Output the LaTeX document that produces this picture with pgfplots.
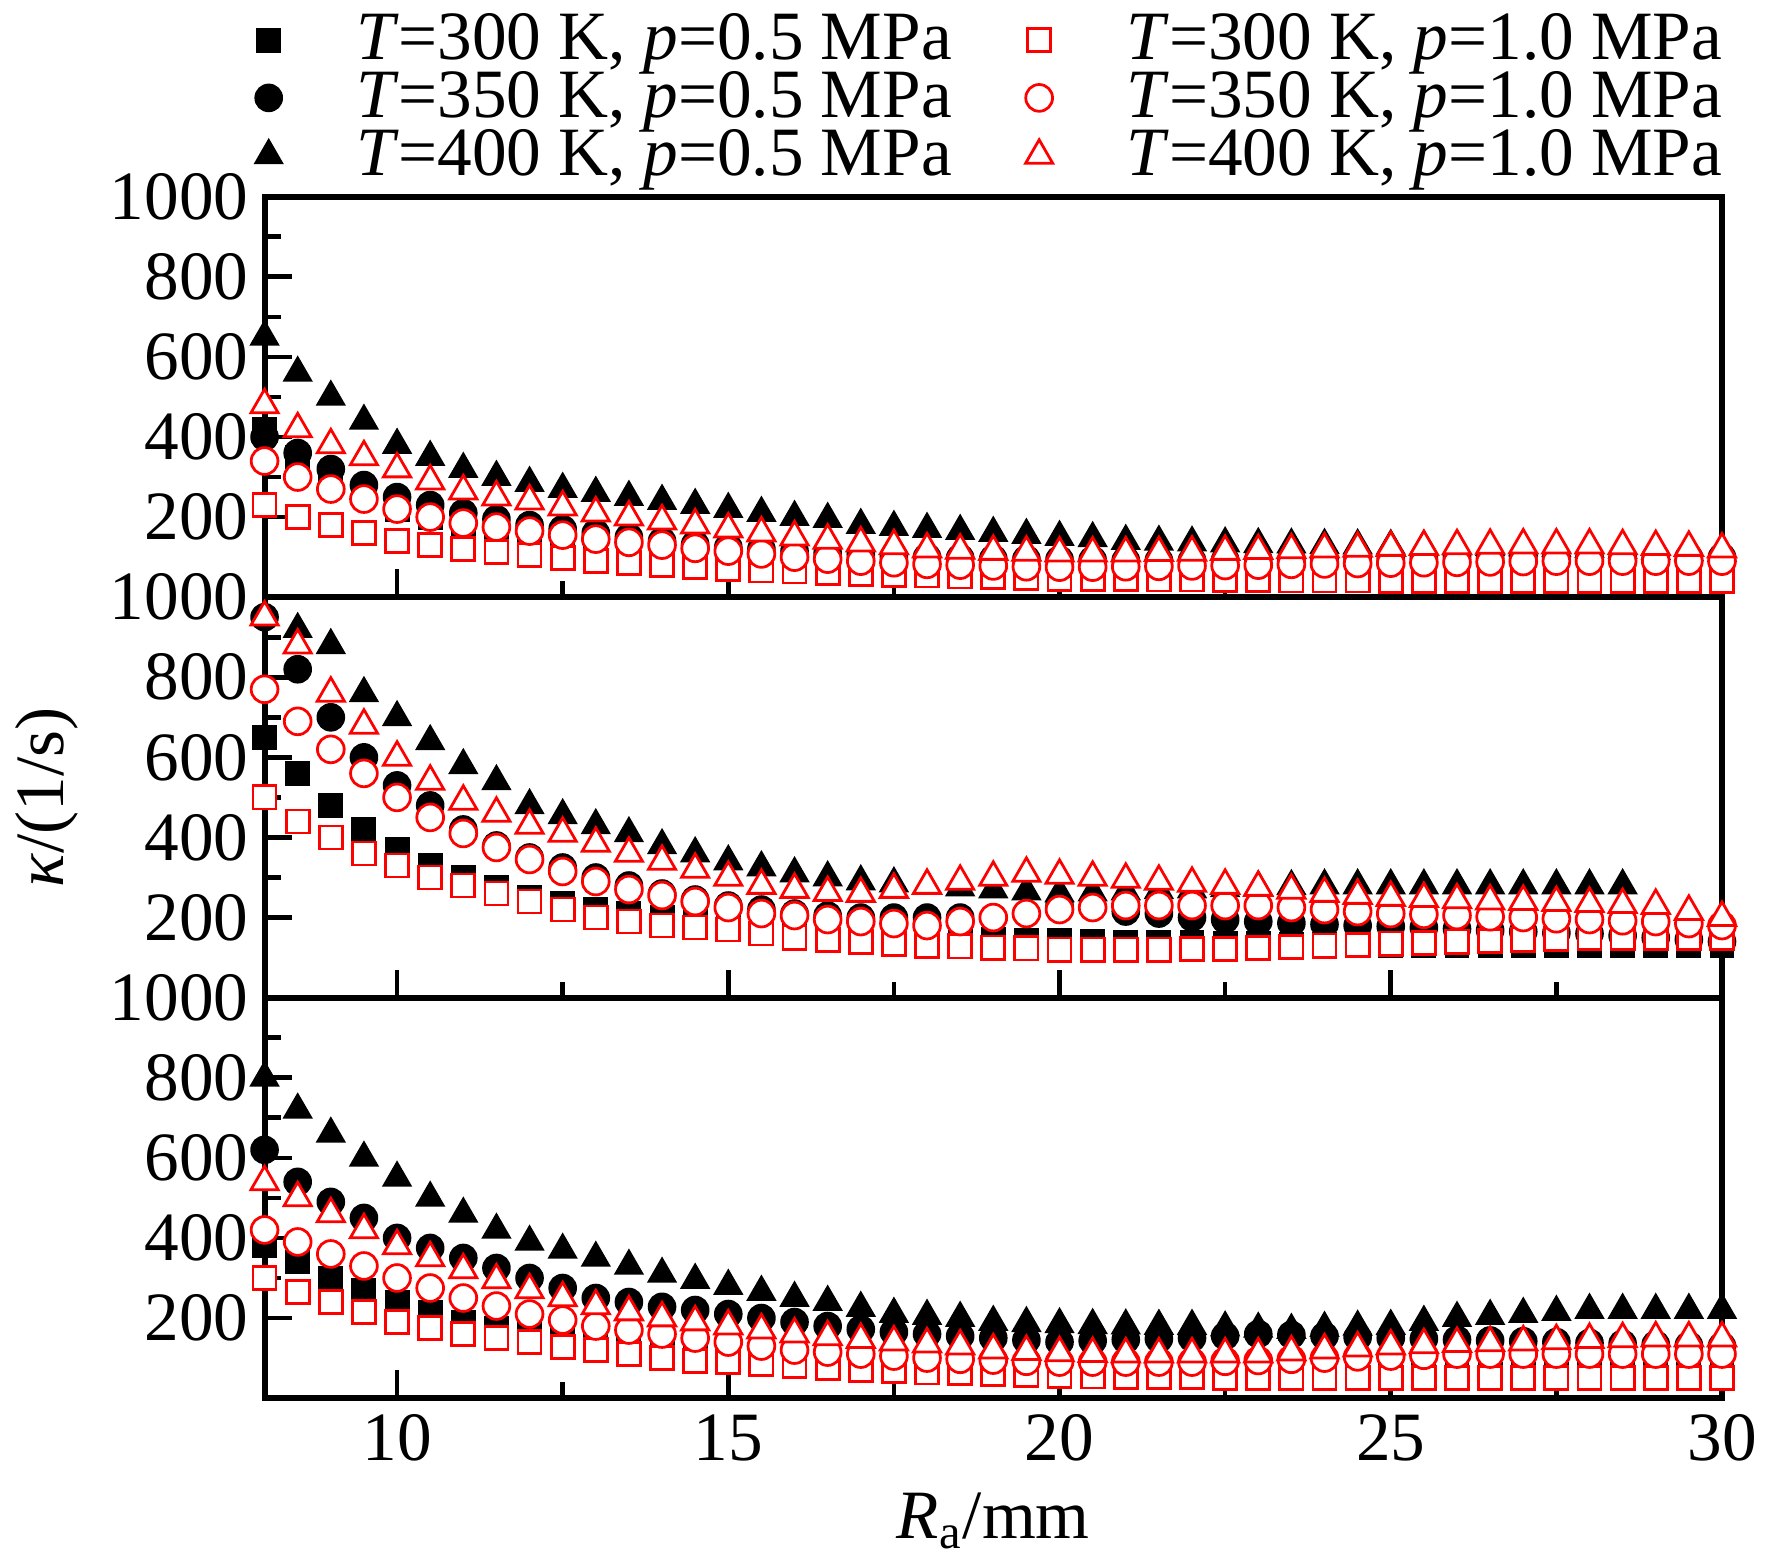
\documentclass[border=0pt]{standalone}
\usepackage{pgfplots}
\pgfplotsset{compat=1.18}
\usepackage{pgfplotstable}
\usepackage{fontspec}
\setmainfont{Liberation Serif}
\newcommand\bigf{\fontsize{15}{18}\selectfont}
\pgfplotstableread{
x s5 c5 t5 s1 c1 t1
8 420 400 650 230 340 480
8.5 350 360 560 200 300 420
9 300 320 500 180 270 380
9.5 260 280 440 160 245 350
10 220 250 380 140 220 320
10.5 200 230 350 130 200 290
11 180 210 320 120 185 265
11.5 170 195 300 112 175 250
12 155 180 285 105 165 240
12.5 145 170 270 97 155 225
13 130 160 260 90 145 210
13.5 122 150 250 85 137 200
14 115 140 240 80 130 190
14.5 108 132 230 75 122 180
15 100 125 220 70 115 170
15.5 96 120 210 67 108 160
16 92 115 200 64 100 150
16.5 88 110 195 61 95 142
17 85 106 180 58 90 135
17.5 82 102 175 56 86 128
18 80 100 170 54 82 120
18.5 78 98 165 52 80 117
19 75 96 160 50 78 114
19.5 73 95 155 48 76 112
20 70 94 150 46 75 110
20.5 69 93 147 45 75 110
21 68 92 140 45 76 110
21.5 67 92 138 44 77 111
22 66 92 136 44 78 112
22.5 65 93 134 43 79 114
23 64 94 132 43 80 116
23.5 63 95 131 42 82 118
24 62 96 130 42 83 120
24.5 61 97 129 42 84 122
25 60 98 128 41 85 124
25.5 60 99 127 41 86 126
26 59 100 126 41 87 128
26.5 58 100 125 40 88 129
27 58 100 124 40 89 130
27.5 57 100 122 40 90 130
28 57 100 120 40 90 130
28.5 56 100 118 40 90 128
29 56 100 115 40 90 126
29.5 55 100 112 40 90 124
30 55 100 110 40 90 120
}\tA
\pgfplotstableread{
x s5 c5 t5 s1 c1 t1
8 650 950 950 500 770 950
8.5 560 820 920 440 690 880
9 480 700 880 400 620 760
9.5 420 600 760 360 560 680
10 370 530 700 330 500 600
10.5 330 480 640 300 450 540
11 300 420 580 280 410 490
11.5 275 380 540 260 375 460
12 250 350 480 240 345 430
12.5 235 325 455 220 315 410
13 220 300 430 200 290 385
13.5 210 280 410 190 270 360
14 200 260 380 180 255 340
14.5 190 245 360 175 240 320
15 182 230 340 170 225 300
15.5 175 220 325 160 210 280
16 170 210 310 150 205 270
16.5 165 205 300 145 195 262
17 160 200 290 140 190 260
17.5 155 200 285 135 185 270
18 150 200 280 130 180 280
18.5 148 200 275 128 190 290
19 146 200 270 125 200 300
19.5 144 210 265 123 210 310
20 142 230 260 120 220 305
20.5 140 225 262 120 225 300
21 139 215 265 120 230 295
21.5 138 210 268 120 230 290
22 137 200 270 121 230 285
22.5 136 195 273 122 230 280
23 135 190 276 124 230 275
23.5 134 186 278 126 225 268
24 133 183 280 130 220 260
24.5 132 180 280 132 215 255
25 131 178 280 135 210 250
25.5 130 175 280 137 208 247
26 130 172 280 140 205 244
26.5 130 168 280 142 202 241
27 130 165 280 145 200 240
27.5 130 162 280 147 197 237
28 130 160 280 150 195 235
28.5 130 155 280 150 192 232
29 130 150 nan 150 190 230
29.5 130 145 nan 150 185 215
30 130 140 nan 150 180 200
}\tB
\pgfplotstableread{
x s5 c5 t5 s1 c1 t1
8 380 620 800 300 420 540
8.5 340 540 720 265 390 500
9 300 490 660 240 360 460
9.5 270 450 600 215 330 420
10 240 400 550 190 300 380
10.5 215 375 500 175 275 350
11 190 350 460 160 250 320
11.5 175 325 420 150 230 295
12 160 300 390 140 210 270
12.5 150 275 370 128 195 250
13 140 250 350 120 180 230
13.5 130 240 330 110 170 215
14 120 228 310 100 160 200
14.5 115 220 295 92 150 190
15 110 210 280 90 140 180
15.5 105 200 265 85 130 170
16 100 190 250 80 120 160
16.5 95 180 240 76 115 153
17 90 172 225 70 110 146
17.5 85 165 210 67 105 140
18 80 160 205 64 100 135
18.5 78 155 200 62 97 130
19 76 150 190 60 95 120
19.5 74 145 187 58 92 116
20 70 140 184 55 90 113
20.5 68 143 182 54 90 111
21 66 146 181 53 90 110
21.5 64 148 180 52 90 110
22 62 150 180 52 90 110
22.5 61 155 176 51 92 110
23 60 160 173 51 94 110
23.5 60 158 170 50 97 115
24 60 155 175 50 100 120
24.5 60 152 178 50 103 125
25 60 150 180 50 105 130
25.5 60 148 190 50 107 133
26 60 146 200 50 110 136
26.5 60 144 205 50 110 138
27 60 142 210 50 110 140
27.5 60 140 215 50 110 143
28 60 138 220 50 110 146
28.5 60 136 220 50 110 148
29 60 134 220 50 110 150
29.5 60 132 220 50 110 150
30 60 130 220 50 110 150
}\tC
\pgfplotsset{
 panel/.style={scale only axis, width=11.1cm, height=3.05cm,
  xmin=8, xmax=30, ymin=0, ymax=1000,
  xtick={10,15,20,25,30}, minor x tick num=1,
  ytick={200,400,600,800,1000}, minor y tick num=1,
  tick align=inside, xtick pos=bottom, ytick pos=left,
  major tick length=6pt, minor tick length=3.5pt,
  axis line style={line width=1.3pt}, every tick/.style={line width=1pt,black},
  /pgf/number format/1000 sep={},
  /pgf/number format/assume math mode=true,
  tick label style={font=\bigf}, label style={font=\bigf},
  clip=false},
 ms/.style={only marks, black, mark=square*, mark size=2.5pt},
 mc/.style={only marks, black, mark=*, mark size=2.9pt},
 mt/.style={only marks, black, mark=triangle*, mark size=3.4pt},
 os/.style={only marks, red, mark=square*, mark size=2.5pt, mark options={fill=white,line width=0.6pt}},
 oc/.style={only marks, red, mark=*, mark size=2.9pt, mark options={fill=white,line width=0.6pt}},
 ot/.style={only marks, red, mark=triangle*, mark size=3.4pt, mark options={fill=white,line width=0.6pt}},
}
\newcommand\allplots[1]{%
 \addplot[ms] table[x=x,y=s5]{#1};
 \addplot[mc] table[x=x,y=c5]{#1};
 \addplot[mt] table[x=x,y=t5]{#1};
 \addplot[os] table[x=x,y=s1]{#1};
 \addplot[oc] table[x=x,y=c1]{#1};
 \addplot[ot] table[x=x,y=t1]{#1};}
\begin{document}
\begin{tikzpicture}
\begin{axis}[panel, name=a1, xticklabels={},
 legend style={draw=none, fill=none, font=\bigf, at={(0.5,1.0)}, anchor=south,
  column sep=14pt, row sep=-3pt, inner sep=1pt},
 legend columns=2, legend cell align=left]
\addlegendimage{ms}\addlegendentry{\textit{T}=300 K, \textit{p}=0.5 MPa}
\addlegendimage{os}\addlegendentry{\textit{T}=300 K, \textit{p}=1.0 MPa}
\addlegendimage{mc}\addlegendentry{\textit{T}=350 K, \textit{p}=0.5 MPa}
\addlegendimage{oc}\addlegendentry{\textit{T}=350 K, \textit{p}=1.0 MPa}
\addlegendimage{mt}\addlegendentry{\textit{T}=400 K, \textit{p}=0.5 MPa}
\addlegendimage{ot}\addlegendentry{\textit{T}=400 K, \textit{p}=1.0 MPa}
\pgfplotsset{every axis plot/.append style={forget plot}}
\allplots{\tA}
\end{axis}
\begin{axis}[panel, name=a2, at={(a1.south west)}, anchor=north west, xticklabels={},
 ylabel={\textit{κ}/(1/s)}]
\allplots{\tB}
\end{axis}
\begin{axis}[panel, name=a3, at={(a2.south west)}, anchor=north west,
 xlabel={\textit{R}\textsubscript{a}/mm}]
\allplots{\tC}
\end{axis}
\end{tikzpicture}
\end{document}
